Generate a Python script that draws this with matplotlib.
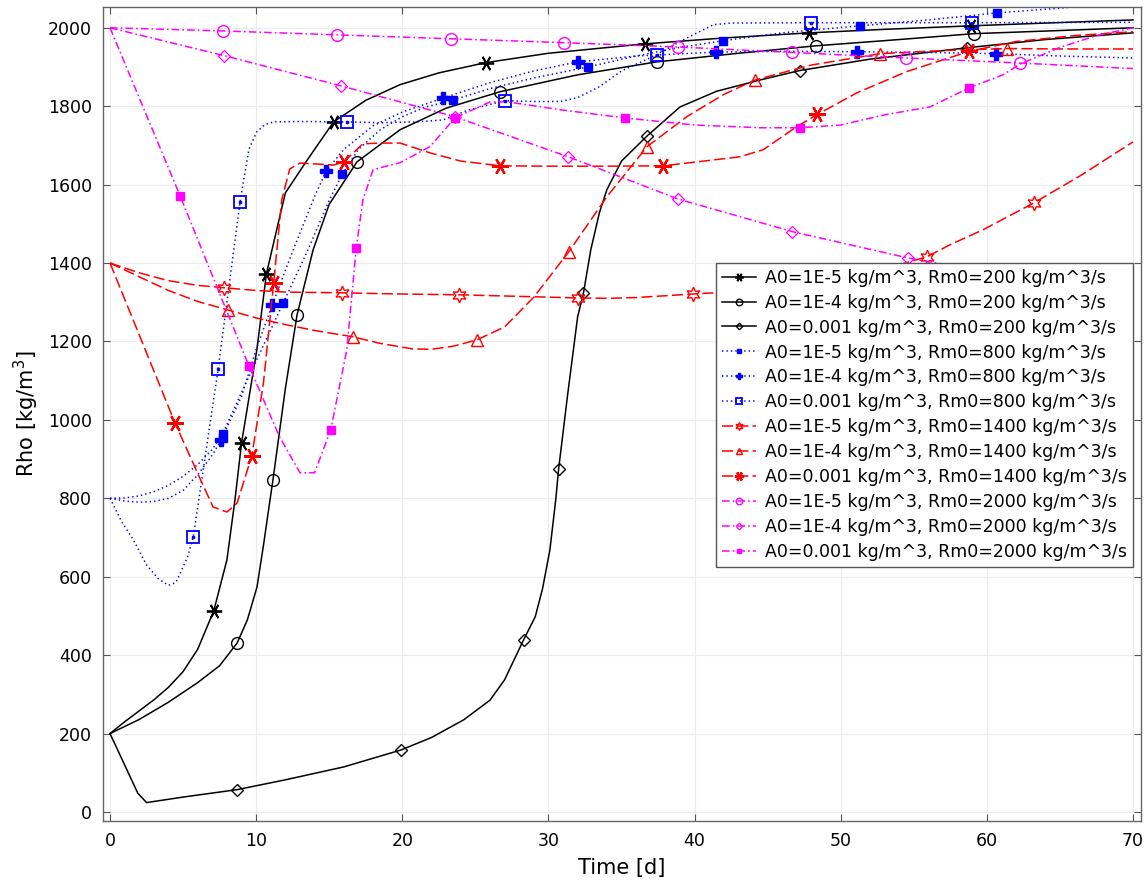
import matplotlib
matplotlib.use('Agg')
import matplotlib.pyplot as plt

plt.rcParams['lines.scale_dashes'] = False
plt.rcParams['font.family'] = ['DejaVu Sans']

# ---------------- data ----------------
labels = [
    "A0=1E-5 kg/m^3, Rm0=200 kg/m^3/s",
    "A0=1E-4 kg/m^3, Rm0=200 kg/m^3/s",
    "A0=0.001 kg/m^3, Rm0=200 kg/m^3/s",
    "A0=1E-5 kg/m^3, Rm0=800 kg/m^3/s",
    "A0=1E-4 kg/m^3, Rm0=800 kg/m^3/s",
    "A0=0.001 kg/m^3, Rm0=800 kg/m^3/s",
    "A0=1E-5 kg/m^3, Rm0=1400 kg/m^3/s",
    "A0=1E-4 kg/m^3, Rm0=1400 kg/m^3/s",
    "A0=0.001 kg/m^3, Rm0=1400 kg/m^3/s",
    "A0=1E-5 kg/m^3, Rm0=2000 kg/m^3/s",
    "A0=1E-4 kg/m^3, Rm0=2000 kg/m^3/s",
    "A0=0.001 kg/m^3, Rm0=2000 kg/m^3/s",
]

t1 = [0, 1, 2, 3, 4, 5, 6, 7.1, 8.0, 8.55, 9.0, 10.05, 10.7, 11.5, 12.0, 13.5, 15.3, 17.5,
      19.85, 22.5, 25.7, 30, 36.6, 42, 47.8, 53, 58.9, 64, 70]
r1 = [200, 230, 258, 286, 318, 358, 415, 513, 643, 796, 941, 1179, 1372, 1500, 1579, 1663, 1760, 1815,
      1855, 1885, 1911, 1935, 1959, 1974, 1987, 1996, 2005, 2012, 2020]
m1 = [7, 10, 12, 16, 20, 22, 24, 26]

t2 = [0, 2, 4, 6, 7.5, 8.7, 9.4, 10.06, 10.5, 10.95, 11.15, 12.0, 12.8, 13.9, 15.0, 16.9, 19.85,
      23, 26.7, 32, 37.4, 43, 48.3, 54, 59.1, 65, 70]
r2 = [200, 236, 280, 330, 373, 431, 490, 574, 680, 796, 847, 1080, 1268, 1434, 1550, 1658, 1740,
      1795, 1837, 1880, 1913, 1935, 1954, 1970, 1985, 1993, 2000]
m2 = [5, 10, 12, 15, 18, 20, 22, 24]

t3 = [0, 1.9, 2.5, 5, 8.7, 12, 16, 19.9, 22, 24.2, 26, 27, 28.3, 29.1, 29.6, 30.1, 30.5, 30.7,
      31.3, 32.0, 32.4, 32.9, 33.5, 34.0, 35, 36.75, 39.0, 41.5, 44.5, 47.2, 52, 58.65, 64, 70]
r3 = [200, 48, 24, 38, 57, 82, 115, 158, 190, 235, 285, 337, 439, 498, 570, 668, 796, 875,
      1060, 1263, 1324, 1434, 1530, 1587, 1660, 1724, 1798, 1838, 1867, 1891, 1920, 1949, 1970, 1987]
m3 = [4, 7, 12, 17, 20, 25, 29, 31]

t4 = [0, 1, 2, 3, 4, 5, 6, 7, 7.7, 9, 10.5, 11.85, 13.5, 15.0, 15.9, 17, 18.5, 20, 21.5, 23.5,
      26, 29, 32.7, 36, 39, 41.96, 46, 51.3, 56, 60.7, 65, 70]
r4 = [800, 801, 806, 817, 833, 856, 886, 925, 964, 1070, 1190, 1298, 1430, 1560, 1627, 1690, 1740,
      1773, 1797, 1816, 1845, 1872, 1900, 1928, 1950, 1967, 1987, 2005, 2020, 2038, 2050, 2065]
m4 = [8, 11, 14, 19, 22, 25, 27, 29]

t5 = [0, 1, 2, 3, 4, 5, 6, 7, 7.6, 9, 10, 11.1, 12.5, 14, 14.8, 16, 18, 20, 22.8, 26, 29, 32,
      36, 41.5, 46, 51.1, 56, 60.6, 65, 70]
r5 = [800, 793, 790, 792, 800, 820, 860, 910, 949, 1060, 1180, 1293, 1430, 1570, 1635, 1690, 1750,
      1785, 1821, 1860, 1890, 1913, 1928, 1938, 1940, 1939, 1937, 1934, 1928, 1923]
m5 = [8, 11, 14, 18, 21, 23, 25, 27]

t6 = [0, 0.8, 1.6, 2.5, 3.3, 4.0, 4.5, 4.8, 5.3, 5.7, 7.4, 8.9, 9.5, 10.05, 10.6, 11.2, 13, 16.2,
      18.5, 21, 22.8, 24.5, 27.0, 29, 30.8, 32, 33.5, 35, 37.4, 39, 41.3, 42.5, 48, 59, 70]
r6 = [800, 740, 694, 630, 595, 578, 585, 609, 650, 702, 1130, 1556, 1690, 1735, 1753, 1760, 1761, 1760,
      1758, 1760, 1765, 1790, 1814, 1812, 1812, 1822, 1850, 1890, 1931, 1965, 2008, 2012, 2013, 2013, 2014]
m6 = [9, 10, 11, 17, 22, 28, 32, 33]

t7 = [0, 2, 4, 6, 7.8, 10, 12, 15.9, 20, 23.9, 28, 32, 34, 36, 39.9, 41.3, 44, 47.9, 50, 53,
      55.9, 57.5, 59.75, 63.2, 66.5, 70]
r7 = [1400, 1375, 1355, 1343, 1337, 1330, 1326, 1324, 1321, 1319, 1315, 1311, 1310, 1312, 1321, 1324,
      1333, 1350, 1362, 1385, 1416, 1447, 1485, 1553, 1625, 1709]
m7 = [4, 7, 9, 11, 14, 17, 20, 23]

t8 = [0, 2, 4, 6, 8.1, 10, 12, 14, 16.6, 18.5, 20.7, 22, 23.5, 25.1, 27.0, 29.0, 31.4, 34.0, 36.75,
      39.5, 42, 44.15, 48, 52.7, 57, 61.4, 65, 70]
r8 = [1400, 1365, 1330, 1302, 1280, 1260, 1243, 1228, 1212, 1195, 1181, 1180, 1188, 1204, 1237, 1313,
      1429, 1569, 1697, 1774, 1830, 1867, 1905, 1934, 1942, 1947, 1946, 1946]
m8 = [4, 8, 13, 16, 18, 21, 23, 25]

t9 = [0, 4.45, 6.2, 7.05, 8.0, 8.7, 9.7, 10.5, 11.2, 11.75, 12.3, 13.0, 15.3, 16.0, 17.3, 18.5,
      19.85, 21.9, 24, 26.7, 30, 34, 37.85, 41.3, 43.1, 44.7, 47.0, 48.4, 51.1, 54.5, 58.8, 62, 66, 70]
r9 = [1400, 992, 847, 778, 765, 788, 908, 1094, 1349, 1561, 1640, 1655, 1650, 1658, 1704, 1706,
      1706, 1681, 1660, 1648, 1647, 1647, 1648, 1663, 1671, 1689, 1748, 1779, 1834, 1888, 1940, 1965, 1980, 1990]
m9 = [1, 6, 8, 13, 19, 22, 27, 30]

t10 = [0, 7.7, 15.5, 23.3, 31.1, 38.9, 46.7, 54.5, 62.3, 70]
r10 = [2000, 1992, 1982, 1972, 1962, 1951, 1937, 1923, 1910, 1896]
m10 = [1, 2, 3, 4, 5, 6, 7, 8]

t11 = [0, 7.8, 15.8, 23.6, 31.35, 38.9, 46.7, 54.6, 62.4, 70]
r11 = [2000, 1929, 1852, 1773, 1671, 1563, 1480, 1413, 1362, 1320]
m11 = [1, 2, 3, 4, 5, 6, 7, 8]

t12 = [0, 4.8, 9.5, 11.6, 13.0, 14.0, 15.1, 16.2, 16.85, 17.3, 18.0, 19.2, 19.85, 21.9, 23.6, 26.0,
       27.2, 31, 35.25, 40, 44.5, 47.2, 50.0, 53, 56.1, 58.8, 61.1, 62.3, 65, 67.5, 70]
r12 = [2000, 1571, 1138, 957, 865, 865, 974, 1178, 1439, 1560, 1638, 1650, 1656, 1697, 1770, 1811,
       1811, 1790, 1770, 1752, 1745, 1745, 1752, 1778, 1798, 1847, 1880, 1908, 1950, 1980, 2000]
m12 = [1, 2, 6, 8, 14, 18, 21, 25]

xticks = [0, 10, 20, 30, 40, 50, 60, 70]
yticks = [0, 200, 400, 600, 800, 1000, 1200, 1400, 1600, 1800, 2000]

# ---------------- styles ----------------
BLK, BLU, RED, MAG = '#000000', '#0000ff', '#ff0000', '#ff00ff'
solid = None
dotted = (0, (1.0, 2.2))
dashed = (0, (8.0, 3.0))
dashdot = (0, (5.5, 2.2, 1.2, 2.2))

series = [
    (t1, r1, m1, BLK, solid, (6, 2, 90), 11, True, 1.3),
    (t2, r2, m2, BLK, solid, 'o', 8.5, False, 1.0),
    (t3, r3, m3, BLK, solid, 'D', 6, False, 1.0),
    (t4, r4, m4, BLU, dotted, 's', 5.5, True, 1.0),
    (t5, r5, m5, BLU, dotted, 'P', 8, True, 1.0),
    (t6, r6, m6, BLU, dotted, 's', 8.5, False, 1.3),
    (t7, r7, m7, RED, dashed, (6, 1, 0), 10.5, False, 1.0),
    (t8, r8, m8, RED, dashed, '^', 9, False, 1.0),
    (t9, r9, m9, RED, dashed, (6, 2, 90), 12, True, 1.6),
    (t10, r10, m10, MAG, dashdot, 'o', 8.5, False, 1.0),
    (t11, r11, m11, MAG, dashdot, 'D', 6, False, 0.9),
    (t12, r12, m12, MAG, dashdot, 's', 5.5, True, 1.0),
]

fig = plt.figure(figsize=(11.45, 8.82), dpi=100)
ax = fig.add_axes([103 / 1145, 61 / 882, 1038 / 1145, 814 / 882])

for (x, y, mk, col, ls, marker, ms, filled, mew), lab in zip(series, labels):
    kw = dict(color=col, lw=1.1, marker=marker, markersize=ms, markevery=mk,
              markeredgewidth=mew, markeredgecolor=col, label=lab)
    kw['markerfacecolor'] = col if filled else 'none'
    ax.plot(x, y, linestyle='-' if ls is None else ls, **kw)

# centre dots inside the open squares (COMSOL style)
ax.plot(t6, r6, linestyle='none', marker='s', markersize=1.6, color=BLU, markevery=m6)

ax.set_xlim(-0.48, 70.55)
ax.set_ylim(-23, 2053)
ax.set_xticks(xticks)
ax.set_yticks(yticks)
ax.grid(True, color='#ececec', lw=0.8)
ax.set_axisbelow(True)
ax.tick_params(direction='in', top=True, right=True, length=5, width=0.8,
               labelsize=12.5, color='#555555', pad=8)
for s in ax.spines.values():
    s.set_color('#666666')
    s.set_linewidth(1.0)

ax.set_xlabel('Time [d]', fontsize=15, labelpad=6)
ax.set_ylabel('Rho [kg/m$^3$]', fontsize=15, labelpad=5)

leg = ax.legend(loc='upper right', bbox_to_anchor=(0.9925, 0.686), fontsize=12.5,
                markerscale=0.55, handlelength=2.0, handletextpad=0.5,
                labelspacing=0.40, borderpad=0.35, fancybox=False, framealpha=1,
                edgecolor='#555555', borderaxespad=0)
leg.get_frame().set_linewidth(1.0)

fig.savefig('out.png', dpi=100)
